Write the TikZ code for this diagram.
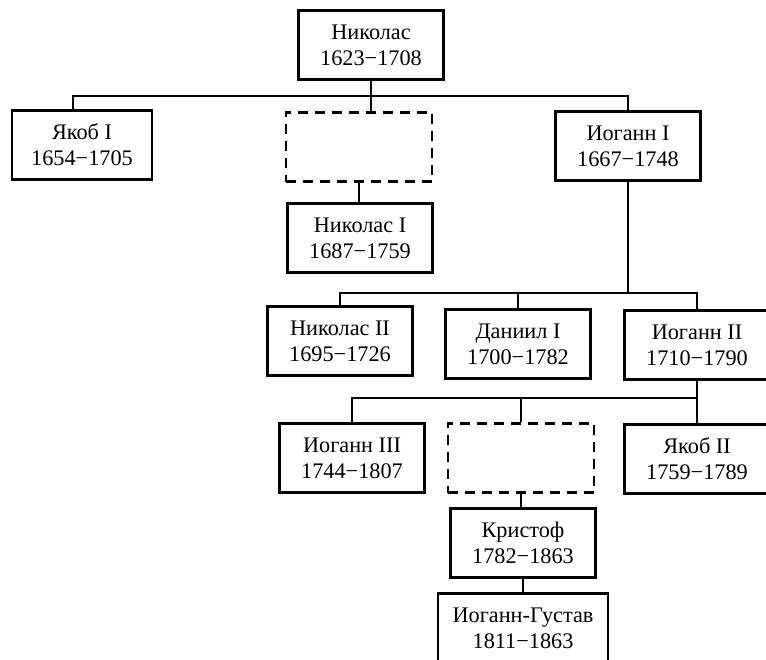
\documentclass[tikz,border=0pt]{standalone}
\usepackage{fontspec}
\setmainfont{Liberation Serif}
\usetikzlibrary{positioning,calc}

\begin{document}
\begin{tikzpicture}[
    x=0.03cm, y=-0.03cm,
    every node/.style={font=\fontsize{19}{22}\selectfont},
    person/.style={rectangle, draw, line width=1.8pt, align=center, minimum width=4.35cm, minimum height=2.07cm, inner sep=2pt},
    unknown/.style={rectangle, draw, line width=1.8pt, dash pattern=on 8.5pt off 6pt, minimum width=4.4cm, minimum height=2.07cm},
    link/.style={line width=1.5pt}
]
\useasboundingbox (0,0) rectangle (766,659);
\clip (0,0) rectangle (766,659);

% First generations
\node[person] (nikolas) at (371,45) {Николас\\1623−1708};
\node[person, minimum width=4.2cm] (jakob-1) at (82,145) {Якоб I\\1654−1705};
\node[unknown] (gap-1) at (359,147) {};
\node[person] (johann-1) at (628,146) {Иоганн I\\1667−1748};
\node[person] (nikolas-1) at (360,238) {Николас I\\1687−1759};

% Sons of Johann I
\node[person] (nikolas-2) at (340,341) {Николас II\\1695−1726};
\node[person] (daniel-1) at (518,344) {Даниил I\\1700−1782};
\node[person] (johann-2) at (697,345) {Иоганн II\\1710−1790};

% Sons of Johann II
\node[person] (johann-3) at (352,458) {Иоганн III\\1744−1807};
\node[unknown] (gap-2) at (521,458) {};
\node[person] (jakob-2) at (697,459) {Якоб II\\1759−1789};
\node[person] (christoph) at (523,543) {Кристоф\\1782−1863};
\node[person, minimum width=5.1cm] (johann-gustav) at (523,628) {Иоганн-Густав\\1811−1863};

% Lines of descent
\coordinate (bus-1) at (nikolas.south |- 0,96);
\draw[link] (nikolas.south) -- (nikolas.south |- gap-1.north);
\draw[link] ([xshift=-0.27cm]jakob-1.north) |- (bus-1) -| (johann-1.north);
\draw[link] (gap-1.south) -- (gap-1.south |- nikolas-1.north);

\coordinate (bus-2) at (johann-1.south |- 0,293);
\draw[link] (johann-1.south) -- (bus-2);
\draw[link] (nikolas-2.north) |- (bus-2) -| (johann-2.north);
\draw[link] (bus-2 -| daniel-1.north) -- (daniel-1.north);

\coordinate (bus-3) at (johann-2.south |- 0,398);
\draw[link] (johann-2.south) -- (jakob-2.north);
\draw[link] (johann-3.north) |- (bus-3);
\draw[link] (bus-3 -| gap-2.north) -- (gap-2.north);
\draw[link] (gap-2.south) -- (gap-2.south |- christoph.north);
\draw[link] (christoph.south) -- (christoph.south |- johann-gustav.north);

\end{tikzpicture}
\end{document}
